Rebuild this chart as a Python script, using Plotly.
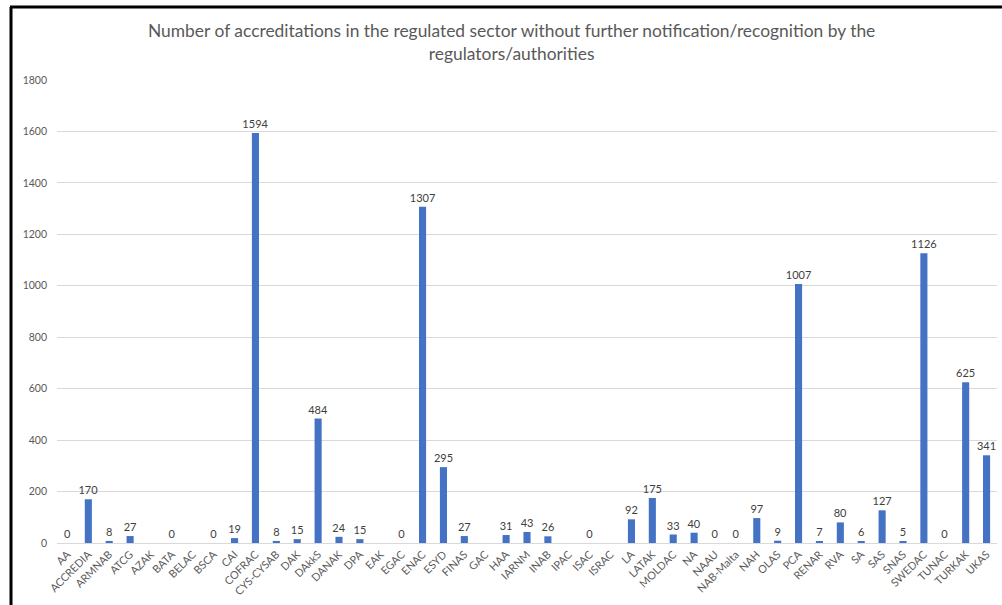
import plotly.graph_objects as go

categories = ["AA", "ACCREDIA", "ARMNAB", "ATCG", "AZAK", "BATA", "BELAC", "BSCA", "CAI", "COFRAC",
              "CYS-CYSAB", "DAK", "DAkkS", "DANAK", "DPA", "EAK", "EGAC", "ENAC", "ESYD", "FINAS",
              "GAC", "HAA", "IARNM", "INAB", "IPAC", "ISAC", "ISRAC", "LA", "LATAK", "MOLDAC",
              "NA", "NAAU", "NAB-Malta", "NAH", "OLAS", "PCA", "RENAR", "RVA", "SA", "SAS",
              "SNAS", "SWEDAC", "TUNAC", "TURKAK", "UKAS"]
values = [0, 170, 8, 27, None, 0, None, 0, 19, 1594,
          8, 15, 484, 24, 15, None, 0, 1307, 295, 27,
          None, 31, 43, 26, None, 0, None, 92, 175, 33,
          40, 0, 0, 97, 9, 1007, 7, 80, 6, 127,
          5, 1126, 0, 625, 341]
y_ticks = [0, 200, 400, 600, 800, 1000, 1200, 1400, 1600, 1800]
title_text = ("Number of accreditations in the regulated sector without further notification/recognition by the"
              "<br>regulators/authorities")

labels = ["" if v is None else str(v) for v in values]
FONT = "Lato, Open Sans, sans-serif"

fig = go.Figure(go.Bar(
    x=categories, y=values, text=labels, textposition="outside",
    textfont=dict(size=11, color="#404040", family=FONT),
    marker=dict(color="#4472C4", line=dict(width=0)),
    cliponaxis=False,
))

W, H = 1002, 605
ml, mr, mt, mb = 57, 5, 80, 62
pw = W - ml - mr
ph = H - mt - mb

def px_x(p):
    return (p - ml) / pw

def px_y(p):
    return (H - mb - p) / ph

fig.update_layout(
    width=W, height=H,
    margin=dict(l=ml, r=mr, t=mt, b=mb, autoexpand=False),
    paper_bgcolor="white", plot_bgcolor="white",
    bargap=0.66,
    showlegend=False,
    uniformtext=dict(minsize=11, mode="show"),
    xaxis=dict(tickangle=-45, tickfont=dict(size=10.8, color="#595959", family=FONT),
               showline=True, linecolor="#d9d9d9", linewidth=1, ticks="", showgrid=False),
    yaxis=dict(range=[0, 1800], tickvals=y_ticks, showgrid=True, gridcolor="#d9d9d9", gridwidth=1,
               zeroline=False, ticks="", ticklen=0, ticklabelstandoff=9,
               tickfont=dict(size=10.5, color="#595959", family=FONT)),
    annotations=[
        dict(text=title_text, xref="paper", yref="paper", x=px_x(511), y=px_y(42),
             xanchor="center", yanchor="middle", showarrow=False, align="center",
             font=dict(size=17.4, color="#595959", family=FONT)),
    ],
    shapes=[
        dict(type="line", xref="paper", yref="paper", x0=px_x(10), x1=px_x(1002), y0=px_y(7), y1=px_y(7),
             line=dict(color="black", width=3)),
        dict(type="line", xref="paper", yref="paper", x0=px_x(11), x1=px_x(11), y0=px_y(7), y1=px_y(605),
             line=dict(color="black", width=3)),
    ],
)

fig.write_html("out.html", config={"displayModeBar": False},
               post_script="document.body.style.margin='0';")
